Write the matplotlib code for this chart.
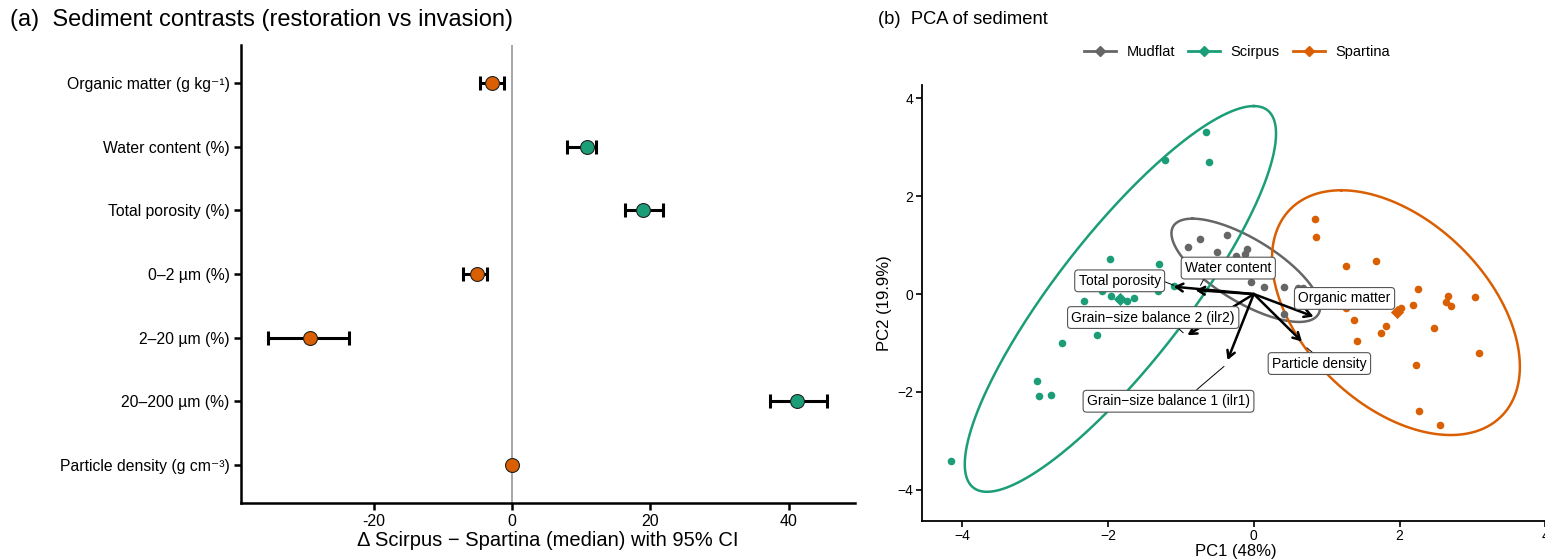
import numpy as np
import matplotlib
matplotlib.use("Agg")
import matplotlib.pyplot as plt
from matplotlib.lines import Line2D
from matplotlib.ticker import FuncFormatter

plt.rcParams['font.family'] = ['Liberation Sans', 'DejaVu Sans']

# ---- panel (a): contrasts ----
variables = ["Organic matter (g kg\u207b\u00b9)", "Water content (%)", "Total porosity (%)",
             "0\u20132 \u00b5m (%)", "2\u201320 \u00b5m (%)", "20\u2013200 \u00b5m (%)",
             "Particle density (g cm\u207b\u00b3)"]
delta_median = [-2.9, 10.8, 19.0, -5.0, -29.2, 41.2, 0.0]
ci_low = [-4.6, 8.0, 16.4, -7.1, -35.2, 37.3, -0.05]
ci_high = [-1.2, 12.2, 21.9, -3.6, -23.6, 45.6, 0.05]
xticks_a = [-20, 0, 20, 40]

# ---- panel (b): PCA ----
groups = ["Mudflat", "Scirpus", "Spartina"]
colors = {"Mudflat": "#666666", "Scirpus": "#1B9E77", "Spartina": "#D95F02"}

mud_pc1 = [-0.90, -0.74, -0.37, -0.50, -0.25, -0.10, -0.12, -0.04, 0.14, 0.41, 0.60, 0.67, 0.42, -0.06, -0.20]
mud_pc2 = [0.97, 1.13, 1.20, 0.86, 0.78, 0.91, 0.82, 0.25, 0.14, 0.15, 0.13, 0.12, -0.41, 0.42, 0.55]
sci_pc1 = [-0.66, -1.22, -0.61, -1.97, -1.30, -1.09, -2.08, -1.31, -2.33, -1.96, -1.85, -1.74,
           -1.65, -2.15, -2.63, -2.97, -2.95, -2.78, -4.15]
sci_pc2 = [3.31, 2.73, 2.69, 0.72, 0.62, 0.17, 0.06, 0.07, -0.14, -0.05, -0.11, -0.15,
           -0.08, -0.84, -0.99, -1.77, -2.08, -2.07, -3.42]
spa_pc1 = [0.84, 0.86, 1.26, 1.68, 2.25, 2.66, 2.64, 2.71, 3.03, 2.19, 2.02, 1.27, 1.37,
           1.81, 1.74, 1.42, 2.47, 3.09, 2.22, 2.27, 2.56]
spa_pc2 = [1.53, 1.17, 0.57, 0.68, 0.10, -0.05, -0.16, -0.24, -0.07, -0.22, -0.29, -0.29, -0.54,
           -0.65, -0.80, -0.95, -0.69, -1.20, -1.45, -2.39, -2.68]
centroids = {"Mudflat": (-0.12, 0.49), "Scirpus": (-1.83, -0.10), "Spartina": (1.97, -0.36)}

# ellipse: centre, conjugate semi-diameters
ell_center = {"Mudflat": (-0.11, 0.485), "Scirpus": (-1.83, -0.10), "Spartina": (1.95, -0.38)}
ell_a = {"Mudflat": (-0.73, 1.055), "Scirpus": (1.83, 3.94), "Spartina": (-0.75, 2.50)}
ell_b = {"Mudflat": (0.712, 0.0), "Scirpus": (1.10, 0.0), "Spartina": (1.526, 0.0)}

loading_names = ["Total porosity", "Water content", "Grain\u2212size balance 2 (ilr2)",
                 "Grain\u2212size balance 1 (ilr1)", "Particle density", "Organic matter"]
loading_pc1 = [-1.10, -0.80, -0.91, -0.36, 0.66, 0.82]
loading_pc2 = [0.15, 0.08, -0.84, -1.35, -0.97, -0.46]
label_pc1 = [-1.84, -0.35, -1.38, -1.17, 0.90, 1.245]
label_pc2 = [0.27, 0.53, -0.48, -2.19, -1.42, -0.09]
# short leader segments (start, end)
seg_x0 = [-1.22, -0.68, -1.05, -0.41, 0.73]
seg_y0 = [0.25, 0.32, -0.68, -1.48, -1.10]
seg_x1 = [-1.10, -0.73, -0.97, -0.78, 0.81]
seg_y1 = [0.18, 0.18, -0.79, -1.95, -1.20]

W, H = 1545, 559
fig = plt.figure(figsize=(W / 100, H / 100), dpi=100)

# ================= panel a =================
ax = fig.add_axes([240.7 / W, 1 - 503 / H, 614.3 / W, 458 / H])
ypos = np.arange(len(variables))
ax.axvline(0, color="#a6a6a6", lw=1.4, zorder=0)
for i in range(len(variables)):
    col = colors["Scirpus"] if delta_median[i] > 0 else colors["Spartina"]
    err = [[delta_median[i] - ci_low[i]], [ci_high[i] - delta_median[i]]]
    ax.errorbar(delta_median[i], ypos[i], xerr=err, fmt="none", ecolor="black",
                elinewidth=2.2, capsize=5, capthick=2.2, zorder=2)
    ax.plot(delta_median[i], ypos[i], "o", ms=10, mfc=col, mec="#222222", mew=0.8, zorder=3)
ax.set_yticks(ypos)
ax.set_yticklabels(variables, fontsize=11.3)
ax.set_ylim(6.6, -0.6)
ax.set_xlim(-39.2, 49.6)
ax.set_xticks(xticks_a)
ax.xaxis.set_major_formatter(FuncFormatter(lambda v, p: f"{v:g}"))
ax.tick_params(axis="x", labelsize=11.5)
for s in ["top", "right"]:
    ax.spines[s].set_visible(False)
for s in ["left", "bottom"]:
    ax.spines[s].set_linewidth(1.8)
ax.tick_params(width=1.8, length=5, color="black", pad=3)
ax.set_xlabel("\u0394 Scirpus \u2212 Spartina (median) with 95% CI", fontsize=14.5, labelpad=1)

fig.text(10 / W, 1 - 20 / H, "(a)  Sediment contrasts (restoration vs invasion)",
         fontsize=17, va="center", ha="left")

# ================= panel b =================
bx = fig.add_axes([921.7 / W, 1 - 520.7 / H, (1549 - 921.7) / W, (520.7 - 85) / H])
t = np.linspace(0, 2 * np.pi, 300)
pts = {"Mudflat": (mud_pc1, mud_pc2), "Scirpus": (sci_pc1, sci_pc2), "Spartina": (spa_pc1, spa_pc2)}
for g in groups:
    c, a, b = ell_center[g], ell_a[g], ell_b[g]
    ex = c[0] + a[0] * np.cos(t) + b[0] * np.sin(t)
    ey = c[1] + a[1] * np.cos(t) + b[1] * np.sin(t)
    bx.plot(ex, ey, color=colors[g], lw=1.8, zorder=1)
    bx.scatter(pts[g][0], pts[g][1], s=30, color=colors[g], lw=0, zorder=2)
    bx.scatter(*centroids[g], s=45, marker="D", color=colors[g], lw=0, zorder=2)

for i in range(len(loading_names)):
    bx.annotate("", xy=(loading_pc1[i], loading_pc2[i]), xytext=(0, 0),
                arrowprops=dict(arrowstyle="->,head_length=0.5,head_width=0.28",
                                lw=1.8, color="black", shrinkA=0, shrinkB=0), zorder=3)
for i in range(len(seg_x0)):
    bx.plot([seg_x0[i], seg_x1[i]], [seg_y0[i], seg_y1[i]], color="black", lw=0.7, zorder=3)
for i in range(len(loading_names)):
    bx.text(label_pc1[i], label_pc2[i], loading_names[i], ha="center", va="center", fontsize=10,
            zorder=4, bbox=dict(boxstyle="round,pad=0.28,rounding_size=0.25", fc="white",
                                ec="#555555", lw=0.8))

bx.set_xlim(-4.556, 4.05)
bx.set_ylim(-4.63, 4.27)
bx.set_xticks([-4, -2, 0, 2, 4])
bx.set_yticks([-4, -2, 0, 2, 4])
fmt_minus = FuncFormatter(lambda v, p: f"{v:g}".replace("-", "\u2212"))
bx.xaxis.set_major_formatter(fmt_minus)
bx.yaxis.set_major_formatter(fmt_minus)
bx.tick_params(labelsize=10, width=1.2, length=4, pad=2)
for s in ["top", "right"]:
    bx.spines[s].set_visible(False)
for s in ["left", "bottom"]:
    bx.spines[s].set_linewidth(1.3)
bx.set_xlabel("PC1 (48%)", fontsize=12, labelpad=1)
bx.set_ylabel("PC2 (19.9%)", fontsize=12, labelpad=4)

handles = [Line2D([], [], color=colors[g], lw=2, marker="D", ms=5.5) for g in groups]
fig.legend(handles, groups, loc="center", bbox_to_anchor=(1237 / W, 1 - 52 / H), ncol=3,
           frameon=False, fontsize=10.5, handlelength=2.2, columnspacing=0.9, handletextpad=0.7)

fig.text(878 / W, 1 - 20 / H, "(b)  PCA of sediment", fontsize=13.2, va="center", ha="left")

fig.savefig("out.png", dpi=100)
